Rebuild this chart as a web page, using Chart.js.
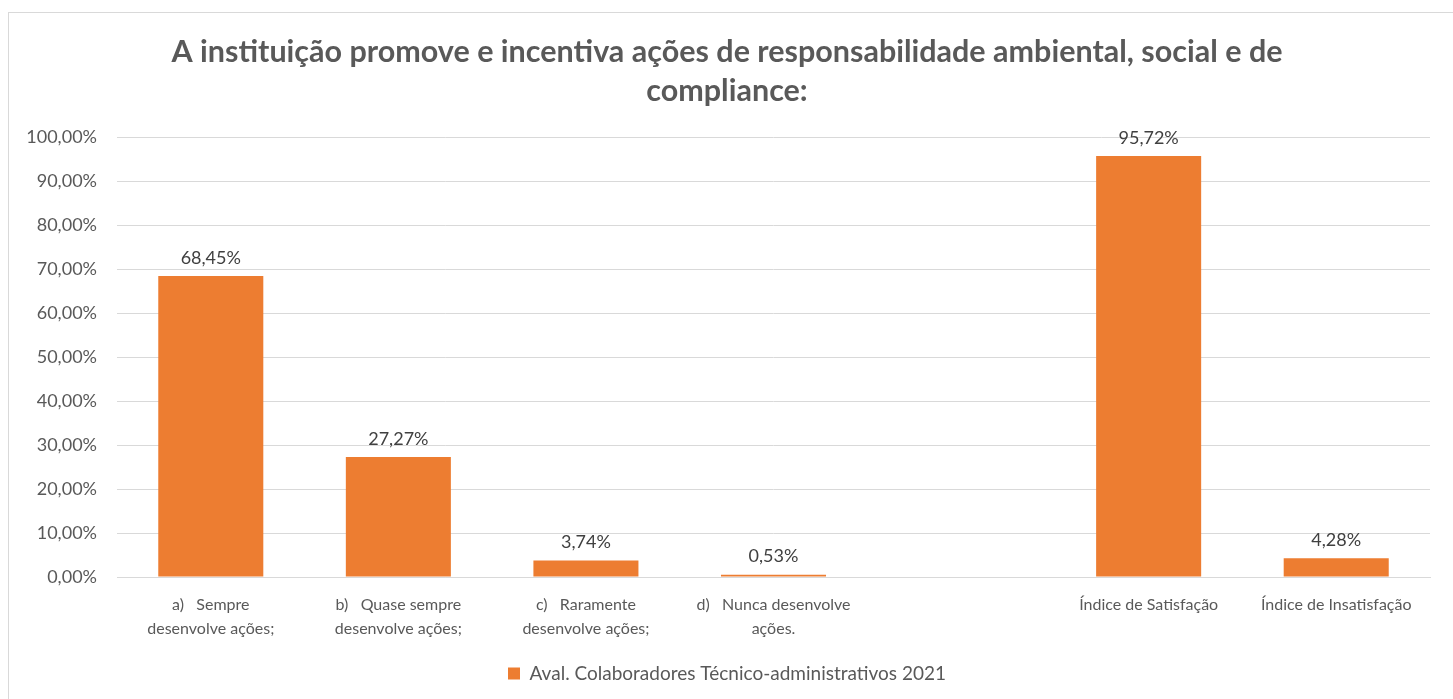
<!DOCTYPE html>
<html>
<head>
<meta charset="utf-8">
<script src="https://cdn.jsdelivr.net/npm/chart.js@4.4.1/dist/chart.umd.min.js"></script>
<style>
  html, body { margin: 0; padding: 0; background: #ffffff; overflow: hidden; }
  #frame { position: absolute; left: 8px; top: 12px; width: 1460px; height: 700px; border: 1px solid #d9d9d9; box-sizing: border-box; }
  #wrap { position: absolute; left: 0; top: 0; width: 1453px; height: 699px; }
</style>
</head>
<body>
<div id="frame"></div>
<div id="wrap"><canvas id="c" width="1453" height="699"></canvas></div>
<script>
const titleLines = ["A instituição promove e incentiva ações de responsabilidade ambiental, social e de", "compliance:"];
const categories = [
  ["a)   Sempre", "desenvolve ações;"],
  ["b)   Quase sempre", "desenvolve ações;"],
  ["c)   Raramente", "desenvolve ações;"],
  ["d)   Nunca desenvolve", "ações."],
  "",
  "Índice de Satisfação",
  "Índice de Insatisfação"
];
const seriesName = "Aval. Colaboradores Técnico-administrativos 2021";
const values = [68.45, 27.27, 3.74, 0.53, null, 95.72, 4.28];
const yTicks = [0, 10, 20, 30, 40, 50, 60, 70, 80, 90, 100];

const fmt = v => v.toFixed(2).replace('.', ',') + '%';
const FONT = 'Lato, "Open Sans", sans-serif';

const dataLabels = {
  id: 'dataLabels',
  afterDatasetsDraw(chart) {
    const ctx = chart.ctx;
    const meta = chart.getDatasetMeta(0);
    ctx.save();
    ctx.font = '18px ' + FONT;
    ctx.fillStyle = '#404040';
    ctx.textAlign = 'center';
    ctx.textBaseline = 'bottom';
    meta.data.forEach((bar, i) => {
      const v = values[i];
      if (v === null || v === undefined) return;
      ctx.fillText(fmt(v), bar.x, bar.y - 9);
    });
    ctx.restore();
  }
};

new Chart(document.getElementById('c'), {
  type: 'bar',
  data: {
    labels: categories,
    datasets: [{
      label: seriesName,
      data: values,
      backgroundColor: '#ed7d31',
      borderWidth: 0,
      categoryPercentage: 1.0,
      barPercentage: 0.56
    }]
  },
  options: {
    responsive: false,
    animation: false,
    devicePixelRatio: 1,
    layout: { padding: { left: 24, right: 23, top: 14, bottom: 6 } },
    plugins: {
      title: {
        display: true,
        text: titleLines,
        color: '#595959',
        font: { family: FONT, size: 30.5, weight: 'bold', lineHeight: 1.3 },
        padding: { top: 18, bottom: 26 }
      },
      legend: {
        display: true,
        position: 'bottom',
        labels: {
          color: '#595959',
          font: { family: FONT, size: 19 },
          boxWidth: 12,
          boxHeight: 12,
          padding: 15
        }
      },
      tooltip: { enabled: false }
    },
    scales: {
      x: {
        grid: { display: false },
        border: { display: true, color: '#d9d9d9', width: 1 },
        ticks: {
          color: '#595959',
          font: { family: FONT, size: 16, lineHeight: 1.5 },
          maxRotation: 0,
          autoSkip: false,
          padding: 8
        }
      },
      y: {
        min: 0,
        max: 100,
        afterBuildTicks(axis) { axis.ticks = yTicks.map(v => ({ value: v })); },
        afterFit(axis) { axis.width = 93; },
        grid: { color: '#d9d9d9', lineWidth: 1, drawTicks: false },
        border: { display: false },
        ticks: {
          color: '#595959',
          font: { family: FONT, size: 18 },
          padding: 20,
          callback: v => fmt(v)
        }
      }
    }
  },
  plugins: [dataLabels]
});
</script>
</body>
</html>
